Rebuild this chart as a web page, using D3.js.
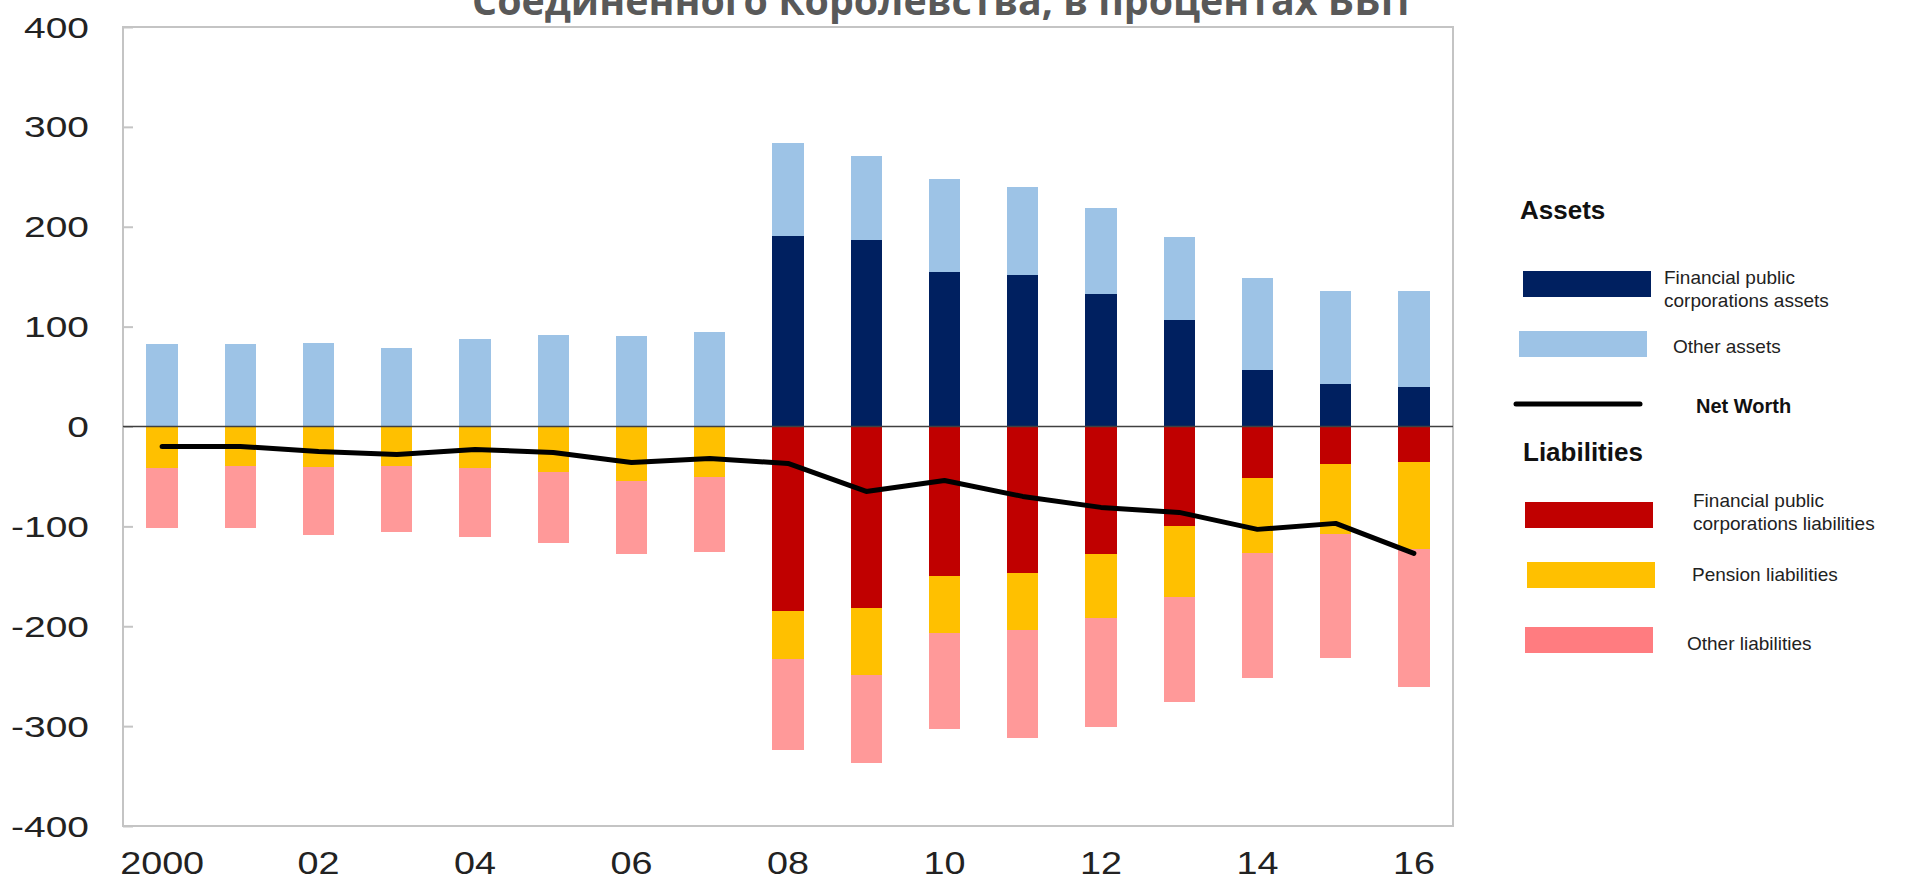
<!DOCTYPE html>
<html>
<head>
<meta charset="utf-8">
<script src="https://cdn.jsdelivr.net/npm/d3@7"></script>
<style>
  body { margin: 0; background: #fff; }
  svg text { font-family: "Liberation Sans", Arial, sans-serif; }
</style>
</head>
<body>
<div id="chart"></div>
<script>
// data (% of GDP)
const years = ["2000", "2001", "2002", "2003", "2004", "2005", "2006", "2007", "2008",
  "2009", "2010", "2011", "2012", "2013", "2014", "2015", "2016"];
const yearLabels = ["2000", "", "02", "", "04", "", "06", "", "08", "", "10", "", "12", "", "14", "", "16"];
const finAssets = [0, 0, 0, 0, 0, 0, 0, 0, 191, 187, 155, 152, 133, 107, 57, 43, 40];
const otherAssets = [83, 83, 84, 79, 88, 92, 91, 95, 93, 84, 93, 88, 86, 83, 92, 93, 96];
const finLiabilities = [0, 0, 0, 0, 0, 0, 0, 0, 185, 182, 150, 147, 128, 100, 52, 38, 36];
const pensionLiabilities = [42, 40, 41, 40, 42, 46, 55, 51, 48, 67, 57, 57, 64, 71, 75, 70, 87];
const otherLiabilities = [60, 62, 68, 66, 69, 71, 73, 75, 91, 88, 96, 108, 109, 105, 125, 124, 138];
const netWorth = [-20, -20, -25, -28, -23, -26, -36, -32, -37, -65, -54, -70, -81, -86, -103, -97, -127];
const yTicks = [400, 300, 200, 100, 0, -100, -200, -300, -400];

const width = 1924;
const height = 878;

// plot frame
const plotLeft = 123, plotRight = 1453, plotTop = 27, plotBottom = 826;

const svg = d3.select("#chart").append("svg")
  .attr("width", width)
  .attr("height", height);

// stacked rows, liabilities go below zero
const rows = years.map((yr, i) => ({
  year: yr,
  finA: finAssets[i],
  othA: otherAssets[i],
  finL: -finLiabilities[i],
  penL: -pensionLiabilities[i],
  othL: -otherLiabilities[i]
}));

const keys = ["finA", "othA", "finL", "penL", "othL"];
const barColors = {
  finA: "#002060",
  othA: "#9dc3e6",
  finL: "#c00000",
  penL: "#ffc000",
  othL: "#ff9999"
};

const series = d3.stack()
  .keys(keys)
  .offset(d3.stackOffsetDiverging)(rows);

const x = d3.scaleBand()
  .domain(years)
  .range([plotLeft, plotRight])
  .paddingInner(0.6)
  .paddingOuter(0.3);

const y = d3.scaleLinear()
  .domain([-400, 400])
  .range([plotBottom, plotTop]);

// title (cut at the top edge in the original)
const title = svg.append("text")
  .attr("x", 941)
  .attr("y", 15)
  .attr("text-anchor", "middle")
  .style("font-family", "'Open Sans', sans-serif")
  .style("font-weight", "bold")
  .style("font-size", "38px")
  .style("fill", "#595959")
  .text("Соединенного Королевства, в процентах ВВП");
const tw = title.node().getComputedTextLength();
title.style("font-size", (38 * 938 / tw) + "px");

// frame
svg.append("rect")
  .attr("x", plotLeft)
  .attr("y", plotTop)
  .attr("width", plotRight - plotLeft)
  .attr("height", plotBottom - plotTop)
  .attr("fill", "none")
  .attr("stroke", "#c4c4c4")
  .attr("stroke-width", 2);

// y axis, ticks pointing inward
const yAxis = svg.append("g")
  .attr("transform", `translate(${plotLeft}, 0)`)
  .call(d3.axisRight(y).tickValues(yTicks).tickSize(10).tickFormat(""));
yAxis.select(".domain").remove();
yAxis.selectAll(".tick line").attr("stroke", "#c4c4c4").attr("stroke-width", 2);

// labels in the original are stretched sideways
svg.append("g").selectAll("text")
  .data(yTicks)
  .enter().append("text")
  .attr("transform", d => `translate(89, ${y(d)}) scale(1.32, 1)`)
  .attr("dy", "0.36em")
  .attr("text-anchor", "end")
  .style("font-size", "29.5px")
  .style("fill", "#222")
  .text(d => d);

// x labels
const xAxis = svg.append("g")
  .attr("transform", `translate(0, ${plotBottom})`)
  .call(d3.axisBottom(x).tickSize(0).tickFormat((d, i) => yearLabels[i]));
xAxis.select(".domain").remove();
xAxis.selectAll(".tick text")
  .attr("y", 0)
  .attr("dy", 0)
  .attr("transform", "translate(0, 48) scale(1.18, 1)")
  .style("font-family", "'Liberation Sans', Arial, sans-serif")
  .style("font-size", "32px")
  .style("fill", "#222");

// bars
svg.append("g").selectAll("g")
  .data(series)
  .enter().append("g")
  .attr("fill", d => barColors[d.key])
  .selectAll("rect")
  .data(d => d)
  .enter().append("rect")
  .attr("x", d => x(d.data.year))
  .attr("width", x.bandwidth())
  .attr("y", d => y(Math.max(d[0], d[1])))
  .attr("height", d => Math.abs(y(d[0]) - y(d[1])))
  .attr("shape-rendering", "crispEdges");

// zero line
svg.append("line")
  .attr("x1", plotLeft)
  .attr("x2", plotRight)
  .attr("y1", y(0))
  .attr("y2", y(0))
  .attr("stroke", "#404040")
  .attr("stroke-width", 1.5);

// net worth line
const line = d3.line()
  .x((d, i) => x(years[i]) + x.bandwidth() / 2)
  .y(d => y(d));

svg.append("path")
  .datum(netWorth)
  .attr("d", line)
  .attr("fill", "none")
  .attr("stroke", "#000")
  .attr("stroke-width", 5)
  .attr("stroke-linecap", "round")
  .attr("stroke-linejoin", "round");

// legend
const legend = svg.append("g").attr("class", "legend");

legend.append("text").attr("x", 1520).attr("y", 219)
  .style("font-weight", "bold").style("font-size", "26px").style("fill", "#111")
  .text("Assets");
legend.append("text").attr("x", 1523).attr("y", 461)
  .style("font-weight", "bold").style("font-size", "26px").style("fill", "#111")
  .text("Liabilities");

const legendItems = [
  { color: "#002060", sx: 1523, sy: 271, tx: 1664, lines: ["Financial public", "corporations assets"], ty: 284 },
  { color: "#9dc3e6", sx: 1519, sy: 331, tx: 1673, lines: ["Other assets"], ty: 353 },
  { color: "#c00000", sx: 1525, sy: 502, tx: 1693, lines: ["Financial public", "corporations liabilities"], ty: 507 },
  { color: "#ffc000", sx: 1527, sy: 562, tx: 1692, lines: ["Pension liabilities"], ty: 581 },
  { color: "#ff7c80", sx: 1525, sy: 627, tx: 1687, lines: ["Other liabilities"], ty: 650 }
];

const item = legend.selectAll(".item")
  .data(legendItems)
  .enter().append("g")
  .attr("class", "item");

item.append("rect")
  .attr("x", d => d.sx)
  .attr("y", d => d.sy)
  .attr("width", 128)
  .attr("height", 26)
  .attr("fill", d => d.color);

item.append("text")
  .attr("x", d => d.tx)
  .attr("y", d => d.ty)
  .style("font-size", "19px")
  .style("fill", "#222")
  .selectAll("tspan")
  .data(d => d.lines.map(l => ({ l, x: d.tx })))
  .enter().append("tspan")
  .attr("x", d => d.x)
  .attr("dy", (d, i) => i === 0 ? 0 : 23)
  .text(d => d.l);

legend.append("line")
  .attr("x1", 1516).attr("x2", 1640)
  .attr("y1", 404).attr("y2", 404)
  .attr("stroke", "#000").attr("stroke-width", 5)
  .attr("stroke-linecap", "round");

legend.append("text").attr("x", 1696).attr("y", 413)
  .style("font-weight", "bold").style("font-size", "20px").style("fill", "#111")
  .text("Net Worth");
</script>
</body>
</html>
